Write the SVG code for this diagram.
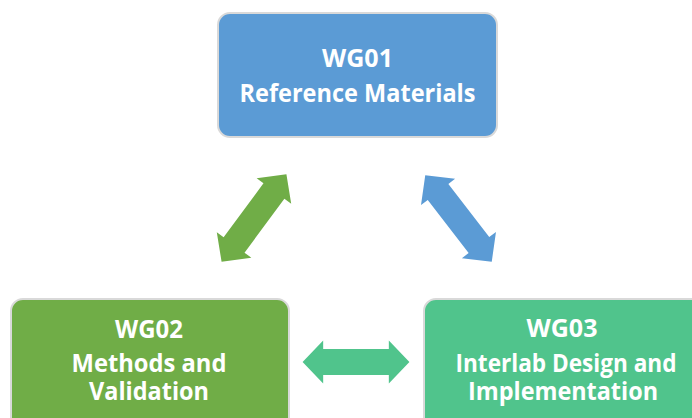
<svg xmlns="http://www.w3.org/2000/svg" width="692" height="418" viewBox="0 0 692 418">
  <defs>
    <style>
      .box { stroke: #d9d9d9; stroke-width: 2; }
      .lbl { font-family: "Open Sans", "Liberation Sans", sans-serif; font-weight: bold; font-size: 25px; fill: #ffffff; text-anchor: middle; }
    </style>
    <path id="dbl" d="M -54.5 0 L -33.5 -21.5 L -33.5 -13 L 33.5 -13 L 33.5 -21.5 L 54.5 0 L 33.5 21.5 L 33.5 13 L -33.5 13 L -33.5 21.5 Z"/>
  </defs>
  <rect width="692" height="418" fill="#ffffff"/>

  <g id="connectors">
    <use href="#dbl" fill="#70ad47" transform="translate(254,218) rotate(-53.5)"/>
    <use href="#dbl" fill="#5b9bd5" transform="translate(458.5,218.5) rotate(52.4)"/>
    <use href="#dbl" fill="#50c48c" transform="translate(356,362) scale(0.98,1)"/>
  </g>

  <g id="wg01">
    <rect class="box" x="218" y="13" width="279" height="124" rx="12" fill="#5b9bd5"/>
    <text class="lbl" x="357.5" y="67" textLength="71" lengthAdjust="spacingAndGlyphs">WG01</text>
    <text class="lbl" x="357.5" y="102" textLength="236" lengthAdjust="spacingAndGlyphs">Reference Materials</text>
  </g>

  <g id="wg02">
    <rect class="box" x="11" y="299" width="278" height="130" rx="12" fill="#70ad47"/>
    <text class="lbl" x="149" y="337.5" textLength="68" lengthAdjust="spacingAndGlyphs">WG02</text>
    <text class="lbl" x="149" y="371.5" textLength="155" lengthAdjust="spacingAndGlyphs">Methods and</text>
    <text class="lbl" x="149" y="400" textLength="120" lengthAdjust="spacingAndGlyphs">Validation</text>
  </g>

  <g id="wg03">
    <rect class="box" x="424" y="299" width="279" height="130" rx="12" fill="#50c48c"/>
    <text class="lbl" x="562" y="337" textLength="71" lengthAdjust="spacingAndGlyphs">WG03</text>
    <text class="lbl" x="566" y="371.5" textLength="221" lengthAdjust="spacingAndGlyphs">Interlab Design and</text>
    <text class="lbl" x="563" y="400" textLength="190" lengthAdjust="spacingAndGlyphs">Implementation</text>
  </g>
</svg>
